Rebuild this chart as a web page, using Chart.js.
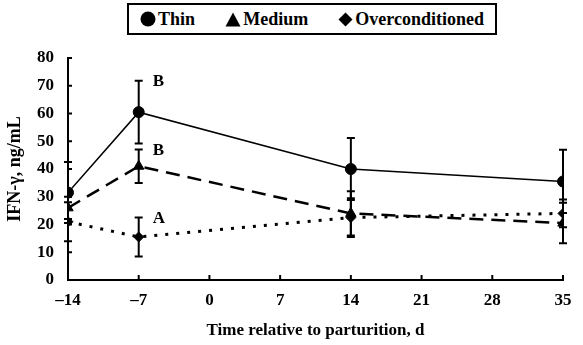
<!DOCTYPE html>
<html>
<head>
<meta charset="utf-8">
<script src="https://cdn.jsdelivr.net/npm/chart.js@4/dist/chart.umd.min.js"></script>
<style>
  html, body { margin: 0; padding: 0; background: #fff; }
  #wrap { position: relative; width: 583px; height: 345px; }
  #legend {
    position: absolute; left: 127px; top: 3px; width: 370px; height: 32px;
    box-sizing: border-box; padding: 0 11px 0 11px;
    border: 2px solid #000; background: #fff;
    display: flex; align-items: center; justify-content: space-between;
    font: bold 18px "Liberation Serif", "Times New Roman", serif; color: #000;
  }
  #legend span.item { display: flex; align-items: center; gap: 2px; white-space: nowrap; }
  #legend svg { display: block; }
</style>
</head>
<body>
<div id="wrap">
  <canvas id="chart" width="583" height="345"></canvas>
  <div id="legend"></div>
</div>
<script>
// Days relative to parturition
const days = [-14, -7, 14, 35];
const xTicks = [-14, -7, 0, 7, 14, 21, 28, 35];

// IFN-γ (ng/mL) means and SE by body condition
const seriesNames = ["Thin", "Medium", "Overconditioned"];
const thin = [31.5, 60.5, 40, 35.5];
const thinErr = [11, 11.3, 11.2, 11.4];
const medium = [26, 41, 24, 20.5];
const mediumErr = [4, 6, 8, 7.3];
const overconditioned = [21, 15.5, 22.5, 24];
const overconditionedErr = [7, 7, 7, 5];

// Significance letters at d -7 (placed beside each group's upper error bar)
const letterDay = -7;
const letters = ["B", "B", "A"];

const serif = '"Liberation Serif", "Times New Roman", serif';

function toXY(values) {
  return days.map((d, i) => ({ x: d, y: values[i] }));
}

const errorSets = [thinErr, mediumErr, overconditionedErr];

// Draws vertical error bars with caps and the letter annotations
const errorBarPlugin = {
  id: 'errorBars',
  afterDatasetsDraw(chart) {
    const { ctx, scales: { x, y } } = chart;
    ctx.save();
    ctx.strokeStyle = '#000';
    ctx.lineWidth = 2;
    chart.data.datasets.forEach((ds, di) => {
      const errs = errorSets[di];
      ds.data.forEach((p, i) => {
        const px = x.getPixelForValue(p.x);
        const top = y.getPixelForValue(p.y + errs[i]);
        const bot = y.getPixelForValue(p.y - errs[i]);
        ctx.beginPath();
        ctx.moveTo(px, top); ctx.lineTo(px, bot);
        ctx.moveTo(px - 4, top); ctx.lineTo(px + 4, top);
        ctx.moveTo(px - 4, bot); ctx.lineTo(px + 4, bot);
        ctx.stroke();
      });
      const idx = days.indexOf(letterDay);
      if (idx >= 0) {
        const p = ds.data[idx];
        ctx.fillStyle = '#000';
        ctx.font = 'bold 17px ' + serif;
        ctx.textAlign = 'left';
        ctx.textBaseline = 'middle';
        ctx.fillText(letters[di], x.getPixelForValue(p.x) + 14, y.getPixelForValue(p.y + errs[idx]) + 1);
      }
    });
    ctx.restore();
  }
};

// Short tick marks on the inner side of both axes, so ticks cross the axis lines
const innerTicksPlugin = {
  id: 'innerTicks',
  afterDraw(chart) {
    const { ctx, scales: { x, y }, chartArea } = chart;
    ctx.save();
    ctx.strokeStyle = '#000';
    ctx.lineWidth = 2;
    ctx.beginPath();
    x.ticks.forEach(t => {
      const px = x.getPixelForValue(t.value);
      ctx.moveTo(px, chartArea.bottom); ctx.lineTo(px, chartArea.bottom - 5);
    });
    y.ticks.forEach(t => {
      const py = y.getPixelForValue(t.value);
      ctx.moveTo(chartArea.left, py); ctx.lineTo(chartArea.left + 4, py);
    });
    ctx.stroke();
    ctx.restore();
  }
};

const common = {
  borderColor: '#000',
  backgroundColor: '#000',
  pointBackgroundColor: '#000',
  pointBorderColor: '#000',
  pointBorderWidth: 1,
  fill: false,
  tension: 0
};

new Chart(document.getElementById('chart'), {
  type: 'line',
  data: {
    datasets: [
      Object.assign({}, common, {
        label: seriesNames[0], data: toXY(thin),
        borderWidth: 1.6, pointStyle: 'circle', pointRadius: 5.5
      }),
      Object.assign({}, common, {
        label: seriesNames[1], data: toXY(medium),
        borderWidth: 2.5, borderDash: [14, 8], pointStyle: 'triangle', pointRadius: 6
      }),
      Object.assign({}, common, {
        label: seriesNames[2], data: toXY(overconditioned),
        borderWidth: 3, borderDash: [3, 8], pointStyle: 'rectRot', pointRadius: 5
      })
    ]
  },
  options: {
    responsive: false,
    animation: false,
    layout: { padding: { top: 58, right: 20, left: 0, bottom: 0 } },
    plugins: { legend: { display: false }, tooltip: { enabled: false } },
    scales: {
      x: {
        type: 'linear',
        min: -14, max: 35,
        afterBuildTicks(scale) { scale.ticks = xTicks.map(v => ({ value: v })); },
        afterFit(scale) { scale.height = 65; },
        grid: { display: false, drawTicks: true, tickLength: 5, tickColor: '#000', tickWidth: 2 },
        border: { display: true, color: '#000', width: 2 },
        ticks: {
          color: '#000', padding: 5,
          font: { family: serif, size: 17, weight: 'bold' },
          callback: v => String(v).replace('-', '\u2013')
        },
        title: {
          display: true, text: 'Time relative to parturition, d', color: '#000',
          font: { family: serif, size: 17, weight: 'bold' },
          padding: { top: 0, bottom: 4 }
        }
      },
      y: {
        min: 0, max: 80,
        afterFit(scale) { scale.width = 68; },
        grid: { display: false, drawTicks: true, tickLength: 5, tickColor: '#000', tickWidth: 2 },
        border: { display: true, color: '#000', width: 2 },
        ticks: {
          stepSize: 10, color: '#000', padding: 9,
          font: { family: serif, size: 17, weight: 'bold' }
        },
        title: {
          display: true, text: 'IFN-\u03b3, ng/mL', color: '#000',
          font: { family: serif, size: 18, weight: 'bold' },
          padding: { top: 5, bottom: 0 }
        }
      }
    }
  },
  plugins: [errorBarPlugin, innerTicksPlugin]
});

// Legend built from the series names
const markers = [
  '<svg width="16" height="16"><circle cx="8" cy="8" r="7.5" fill="#000"/></svg>',
  '<svg width="16" height="15"><polygon points="8,0.5 15.5,14.5 0.5,14.5" fill="#000"/></svg>',
  '<svg width="15" height="15"><polygon points="7.5,0.5 14.5,7.5 7.5,14.5 0.5,7.5" fill="#000"/></svg>'
];
document.getElementById('legend').innerHTML = seriesNames
  .map((n, i) => '<span class="item">' + markers[i] + '<span>' + n + '</span></span>')
  .join('');
</script>
</body>
</html>
